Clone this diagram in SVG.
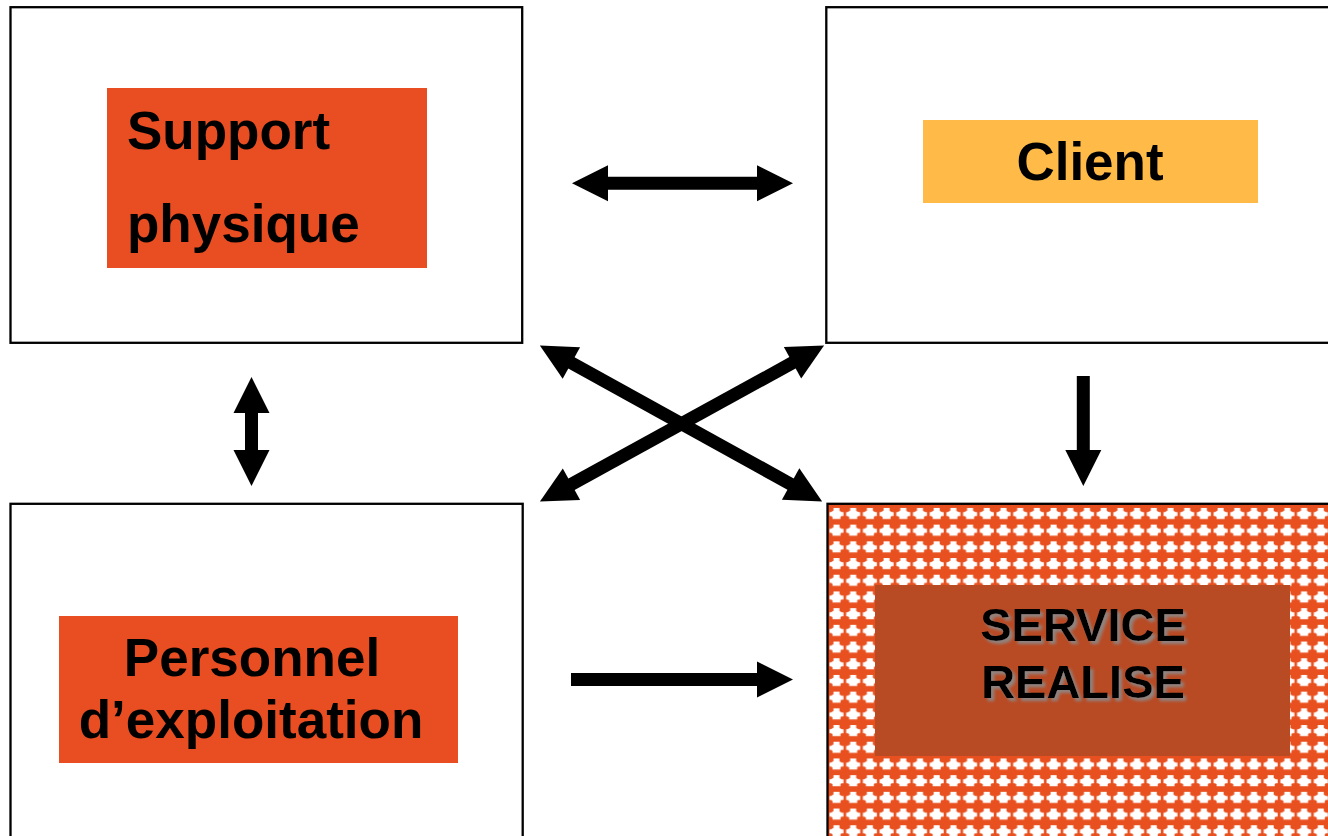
<svg xmlns="http://www.w3.org/2000/svg" width="1328" height="836" viewBox="0 0 1328 836">
  <defs>
    <style>
      .frame { fill: #ffffff; stroke: #000000; stroke-width: 2.3; }
      .label { font-family: "Liberation Sans", Arial, sans-serif; font-weight: bold; fill: #000000; }
      .big { font-size: 53px; }
      .mid { font-size: 47px; }
      .shaft { stroke: #000000; stroke-width: 13; fill: none; }
    </style>
    <!-- arrowhead: base sits on the line end, tip points forward -->
    <marker id="head" markerUnits="userSpaceOnUse" markerWidth="40" markerHeight="40"
            viewBox="0 -20 40 40" refX="1" refY="0" orient="auto-start-reverse" overflow="visible">
      <path d="M0,-18 L36,0 L0,18 Z" fill="#000000"/>
    </marker>
    <!-- woven orange/white fill of the result box -->
    <pattern id="weave" patternUnits="userSpaceOnUse" x="828" y="505" width="16.7" height="16.7">
      <rect width="16.7" height="16.7" fill="#e9501f"/>
      <path d="M1.5,7 h4 v-4 h6 v4 h4 v4 h-3 v3 h-8 v-3 h-3 z" fill="#ffffff"/>
      <ellipse cx="8.3" cy="9" rx="6.2" ry="3.6" fill="#ffffff"/>
    </pattern>
    <filter id="shadow" x="-10%" y="-20%" width="130%" height="150%">
      <feDropShadow dx="3" dy="3" stdDeviation="1.6" flood-color="#8a8a8a" flood-opacity="0.9"/>
    </filter>
  </defs>

  <rect width="1328" height="836" fill="#ffffff"/>

  <!-- physical support -->
  <g id="support-physique">
    <rect class="frame" x="10.5" y="7.2" width="511.7" height="335.6"/>
    <rect x="107" y="88" width="320" height="180" fill="#e84e22"/>
    <text class="label big" x="127" y="149">Support</text>
    <text class="label big" x="127" y="242">physique</text>
  </g>

  <!-- customer -->
  <g id="client">
    <rect class="frame" x="826.3" y="7.2" width="520" height="335.6"/>
    <rect x="923" y="120" width="335" height="83" fill="#ffba47"/>
    <text class="label big" x="1090" y="180" text-anchor="middle">Client</text>
  </g>

  <!-- operating staff -->
  <g id="personnel">
    <rect class="frame" x="10.5" y="503.8" width="512.2" height="350"/>
    <rect x="59" y="616" width="399" height="147" fill="#e84e22"/>
    <text class="label big" x="252" y="676" text-anchor="middle">Personnel</text>
    <text class="label big" x="251" y="738" text-anchor="middle">d’exploitation</text>
  </g>

  <!-- delivered service -->
  <g id="service-realise">
    <rect x="827.5" y="503.8" width="520" height="350" fill="url(#weave)" stroke="#000000" stroke-width="2.3"/>
    <rect x="875" y="585" width="415" height="171" fill="#b84a24"/>
    <g filter="url(#shadow)">
      <text class="label mid" x="1083" y="641" text-anchor="middle">SERVICE</text>
      <text class="label mid" x="1083" y="698" text-anchor="middle">REALISE</text>
    </g>
  </g>

  <!-- connectors -->
  <g id="connectors">
    <line class="shaft" x1="607" y1="183.3" x2="758" y2="183.3" marker-start="url(#head)" marker-end="url(#head)"/>
    <line class="shaft" x1="251.5" y1="412" x2="251.5" y2="451" marker-start="url(#head)" marker-end="url(#head)"/>
    <line class="shaft" x1="1083.3" y1="376" x2="1083.3" y2="451" marker-end="url(#head)"/>
    <line class="shaft" x1="571" y1="679.5" x2="758" y2="679.5" marker-end="url(#head)"/>
    <line class="shaft" x1="570.5" y1="362.4" x2="791.5" y2="484.6" marker-start="url(#head)" marker-end="url(#head)"/>
    <line class="shaft" x1="570.6" y1="484.7" x2="793.4" y2="362.3" marker-start="url(#head)" marker-end="url(#head)"/>
  </g>
</svg>
